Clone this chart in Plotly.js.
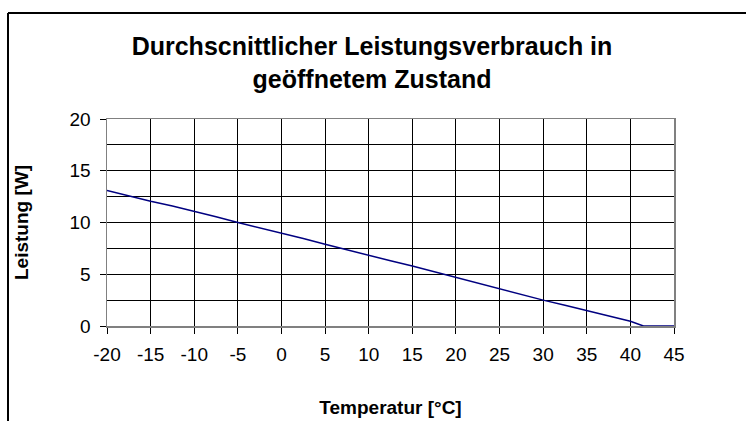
<!DOCTYPE html>
<html>
<head>
<meta charset="utf-8">
<script src="https://cdn.plot.ly/plotly-3.0.1.min.js"></script>
<style>
  html, body { margin: 0; padding: 0; background: #fff; }
  #chart { width: 746px; height: 421px; }
</style>
</head>
<body>
<div id="chart"></div>
<script>
const temperature = [-20, -17.5, -15, -12.5, -10, -7.5, -5, -2.5, 0, 2.5, 5, 7.5, 10, 12.5, 15, 17.5, 20, 22.5, 25, 27.5, 30, 32.5, 35, 37.5, 40, 41.5, 45];
const power = [13.1, 12.55, 12.05, 11.6, 11.1, 10.55, 10.0, 9.5, 8.95, 8.45, 7.9, 7.35, 6.85, 6.3, 5.8, 5.25, 4.7, 4.1, 3.55, 3.05, 2.5, 2.0, 1.5, 0.95, 0.45, 0.0, 0.0];
const xTicks = [-20, -15, -10, -5, 0, 5, 10, 15, 20, 25, 30, 35, 40, 45];
const yTicks = [0, 5, 10, 15, 20];

const W = 746, H = 421;
const M = { l: 107, r: 72, t: 119, b: 95 };
const pw = W - M.l - M.r, ph = H - M.t - M.b;
const px = v => (v - M.l) / pw;
const py = v => (H - M.b - v) / ph;

const font = "Liberation Sans, Arial, sans-serif";

const trace = {
  x: temperature,
  y: power,
  type: 'scatter',
  mode: 'lines',
  line: { color: '#000080', width: 1.5 },
  hoverinfo: 'skip'
};

const layout = {
  width: W, height: H,
  margin: M,
  paper_bgcolor: '#ffffff',
  plot_bgcolor: '#ffffff',
  showlegend: false,
  title: {
    text: '<b>Durchscnittlicher Leistungsverbrauch in<br>geöffnetem Zustand</b>',
    font: { family: font, size: 25, color: '#000' },
    x: px(372), xref: 'paper', xanchor: 'center',
    y: 1 - 55 / H, yref: 'container', yanchor: 'top'
  },
  xaxis: {
    range: [-20, 45],
    tickvals: xTicks,
    ticktext: xTicks.map(String),
    showgrid: true, gridcolor: '#000', gridwidth: 1,
    zeroline: false,
    showline: true, linecolor: '#808080', linewidth: 1.5, mirror: true,
    ticks: 'outside', ticklen: 6, tickcolor: '#000', tickwidth: 1,
    ticklabelstandoff: 5,
    tickfont: { family: font, size: 19, color: '#000' },
    title: { text: '<b>Temperatur [°C]</b>', font: { family: font, size: 19, color: '#000' }, standoff: 36 },
    fixedrange: true
  },
  yaxis: {
    range: [0, 20],
    tickvals: yTicks,
    ticktext: yTicks.map(String),
    showgrid: true, gridcolor: '#000', gridwidth: 1,
    minor: { dtick: 2.5, showgrid: true, gridcolor: '#000', gridwidth: 1, ticks: '' },
    zeroline: false,
    showline: true, linecolor: '#808080', linewidth: 1.5, mirror: true,
    ticks: 'outside', ticklen: 6, tickcolor: '#000', tickwidth: 1,
    ticklabelstandoff: 5,
    tickfont: { family: font, size: 19, color: '#000' },
    title: { text: '<b>Leistung [W]</b>', font: { family: font, size: 19, color: '#000' }, standoff: 36 },
    fixedrange: true
  },
  shapes: [
    { type: 'line', xref: 'paper', yref: 'paper', x0: px(8), x1: px(760), y0: py(13), y1: py(13), line: { color: '#000', width: 2 } },
    { type: 'line', xref: 'paper', yref: 'paper', x0: px(8), x1: px(8), y0: py(13), y1: py(440), line: { color: '#000', width: 2 } }
  ]
};

Plotly.newPlot('chart', [trace], layout, { staticPlot: true, displayModeBar: false });
</script>
</body>
</html>
